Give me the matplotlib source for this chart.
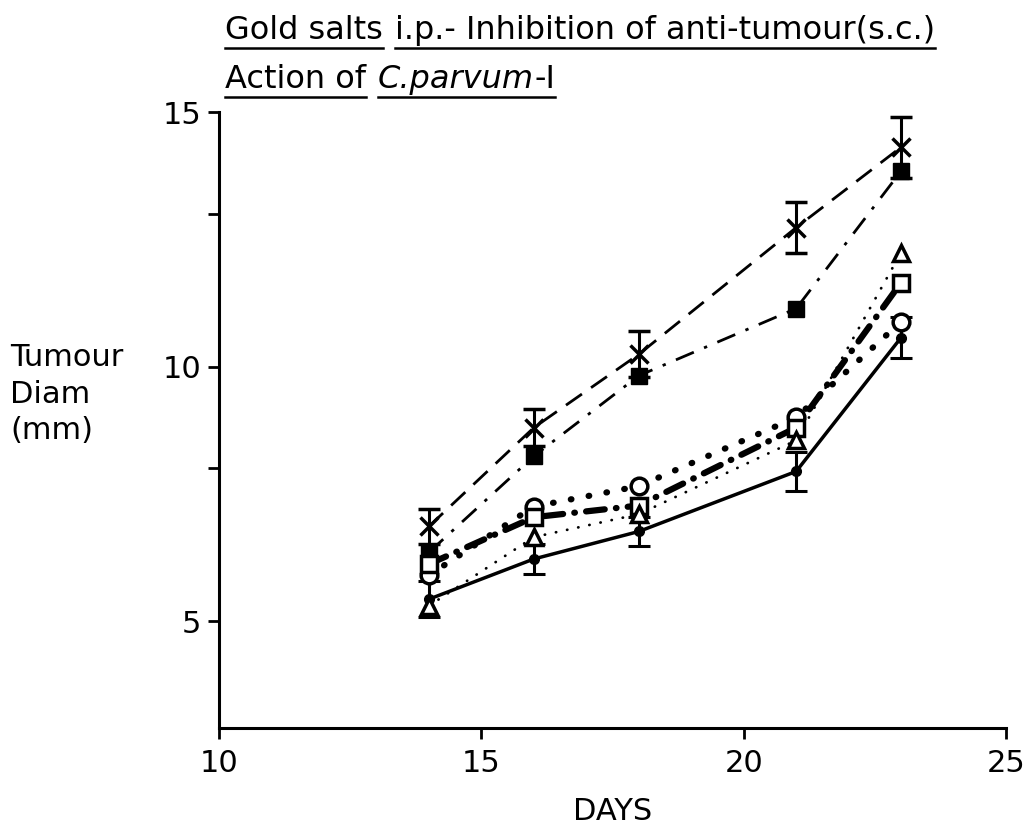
import matplotlib
matplotlib.use("Agg")
import matplotlib.pyplot as plt
from matplotlib.lines import Line2D
from matplotlib.transforms import IdentityTransform

# days after tumour implant
days = [14, 16, 18, 21, 23]

# tumour diameter (mm) per group
cross_mean = [6.86, 8.80, 10.24, 12.73, 14.31]
cross_err = [0.35, 0.37, 0.45, 0.50, 0.60]
filled_square = [6.35, 8.24, 9.82, 11.14, 13.84]
open_circle = [5.90, 7.25, 7.65, 9.00, 10.88]
open_square = [6.12, 7.04, 7.27, 8.80, 11.65]
open_triangle = [5.30, 6.65, 7.10, 8.55, 12.24]
filled_circle = [5.43, 6.22, 6.76, 7.94, 10.57]
filled_circle_err = [0.35, 0.30, 0.28, 0.39, 0.40]

y_ticks = [5, 8, 10, 13, 15]
y_ticklabels = ["5", "", "10", "", "15"]
x_ticks = [10, 15, 20, 25]

FS = 22
plt.rcParams["font.family"] = ["DejaVu Sans"]


def draw_title_line(fig, x_px, y_px, groups, size, gap_px):
    # pieces drawn left to right in pixel coords, each group underlined
    renderer = fig.canvas.get_renderer()
    ident = IdentityTransform()
    x = x_px
    for group in groups:
        start = x
        for text, style in group:
            t = fig.text(x, y_px, text, transform=ident, fontsize=size,
                         style=style, ha="left", va="baseline")
            x += t.get_window_extent(renderer).width
        fig.add_artist(Line2D([start, x], [y_px - 9, y_px - 9], transform=ident,
                              color="black", lw=1.8))
        x += gap_px


fig = plt.figure(figsize=(10.36, 8.34), dpi=100)
ax = fig.add_axes([0.2114, 0.1271, 0.7597, 0.7386])

# group with X markers, dashed
ax.plot(days, cross_mean, color="k", lw=2, dashes=(7, 4), zorder=2)
ax.errorbar(days, cross_mean, yerr=cross_err, fmt="x", color="k", ms=13, mew=2.5,
            capsize=8, elinewidth=2.2, capthick=2.2, zorder=4)

# filled squares, dash-dot
ax.plot(days, filled_square, color="k", lw=2, dashes=(7, 4, 1.2, 4), zorder=2)
ax.plot(days, filled_square, "s", color="k", ms=11, zorder=4)

# open circles, heavy dots
ax.plot(days, open_circle, color="k", lw=4.5, dashes=(0.1, 2.8),
        dash_capstyle="round", zorder=2)
ax.plot(days, open_circle, "o", color="k", mfc="white", ms=12, mew=2.5, zorder=4)

# open squares, heavy dash-dot
ax.plot(days, open_square, color="k", lw=4.5, dashes=(3, 1.8, 0.1, 1.8),
        dash_capstyle="round", zorder=2)
ax.plot(days, open_square, "s", color="k", mfc="white", ms=11, mew=2.5, zorder=4)

# open triangles, fine dots
ax.plot(days, open_triangle, color="k", lw=2, dashes=(0.1, 4),
        dash_capstyle="round", zorder=2)
ax.plot(days, open_triangle, "^", color="k", mfc="white", ms=11, mew=2.5, zorder=4)

# filled circles, solid
ax.errorbar(days, filled_circle, yerr=filled_circle_err, fmt="o-", color="k", ms=7,
            lw=2.5, capsize=8, elinewidth=2.2, capthick=2.2, zorder=3)

ax.set_xlim(10, 25)
ax.set_ylim(2.9, 15)
ax.set_xticks(x_ticks)
ax.set_yticks(y_ticks)
ax.set_yticklabels(y_ticklabels)
ax.tick_params(axis="both", labelsize=FS, width=2, length=8, direction="out")
ax.tick_params(axis="y", pad=5)
ax.tick_params(axis="x", pad=7)
for side in ["top", "right"]:
    ax.spines[side].set_visible(False)
for side in ["left", "bottom"]:
    ax.spines[side].set_linewidth(2.2)
ax.set_xlabel("DAYS", fontsize=FS, labelpad=14)

fig.text(10 / 1036, 1 - 343 / 834, "Tumour\nDiam\n(mm)", fontsize=FS,
         ha="left", va="top", linespacing=1.33)

H = 834
draw_title_line(fig, 225, H - 39,
                [[("Gold salts", "normal")],
                 [("i.p.- Inhibition of anti-tumour(s.c.)", "normal")]], 23, 12)
draw_title_line(fig, 225, H - 88,
                [[("Action of", "normal")],
                 [("C.parvum", "italic"), ("-I", "normal")]], 23, 12)

fig.savefig("out.png", dpi=100)
